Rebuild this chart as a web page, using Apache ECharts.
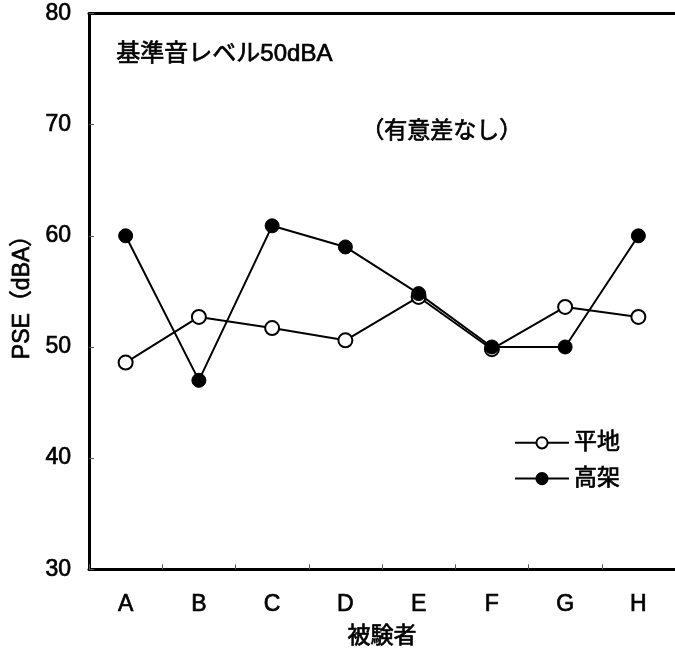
<!DOCTYPE html>
<html>
<head>
<meta charset="utf-8">
<script src="https://cdn.jsdelivr.net/npm/echarts@6/dist/echarts.min.js"></script>
<style>html,body{margin:0;padding:0;background:#fff;}#c{width:675px;height:660px;}</style>
</head>
<body>
<div id="c"></div>
<script>
var categories = ['A', 'B', 'C', 'D', 'E', 'F', 'G', 'H'];
var flatValues = [48.6, 52.7, 51.7, 50.6, 54.5, 49.8, 53.6, 52.7];
var elevValues = [60.0, 47.0, 60.9, 59.0, 54.8, 50.0, 50.0, 60.0];
var seriesNames = ['平地', '高架'];
var yTicks = [30, 40, 50, 60, 70, 80];

var FONT = '"Liberation Sans", Arial, "Noto Sans CJK JP", sans-serif';
var TS = {color: '#000', fontSize: 23, fontFamily: FONT, textBorderColor: '#000', textBorderWidth: 0.7};
function ts(extra) { return Object.assign({}, TS, extra || {}); }
var chart = echarts.init(document.getElementById('c'), null, {renderer: 'canvas'});
chart.setOption({
  backgroundColor: '#fff',
  animation: false,
  grid: {left: 89, top: 13.5, right: -3, bottom: 90.7, show: false},
  xAxis: [{
    type: 'category',
    data: categories,
    boundaryGap: true,
    name: '被験者',
    nameLocation: 'middle',
    nameGap: 56,
    nameTextStyle: ts(),
    axisLine: {show: true, onZero: false, lineStyle: {color: '#000', width: 3}},
    axisTick: {show: true, inside: true, length: 5, lineStyle: {color: '#555', width: 1}},
    axisLabel: ts({margin: 24}),
    splitLine: {show: false}
  }, {
    type: 'category',
    data: categories,
    position: 'top',
    axisLine: {show: true, lineStyle: {color: '#000', width: 3}},
    axisTick: {show: false},
    axisLabel: {show: false},
    splitLine: {show: false}
  }],
  yAxis: {
    type: 'value',
    min: yTicks[0],
    max: yTicks[yTicks.length - 1],
    interval: 10,
    name: 'PSE（dBA）',
    nameLocation: 'middle',
    nameGap: 55,
    nameTextStyle: ts(),
    axisLine: {show: true, lineStyle: {color: '#000', width: 3}},
    axisTick: {show: true, inside: true, length: 5, lineStyle: {color: '#555', width: 1}},
    axisLabel: ts({margin: 18}),
    splitLine: {show: false}
  },
  legend: {
    orient: 'vertical',
    left: 509,
    top: 426,
    itemWidth: 54,
    itemHeight: 14,
    itemGap: 12,
    textStyle: ts(),
    data: seriesNames
  },
  series: [
    {
      name: seriesNames[0],
      type: 'line',
      data: flatValues,
      symbol: 'circle',
      symbolSize: 14,
      lineStyle: {color: '#000', width: 2},
      itemStyle: {color: '#fff', borderColor: '#000', borderWidth: 2},
      z: 2
    },
    {
      name: seriesNames[1],
      type: 'line',
      data: elevValues,
      symbol: 'circle',
      symbolSize: 14,
      lineStyle: {color: '#000', width: 2},
      itemStyle: {color: '#000', borderColor: '#000', borderWidth: 1},
      z: 3
    }
  ],
  graphic: [
    {type: 'text', left: 116, top: 42, style: {text: '基準音レベル50dBA', fill: '#000', stroke: '#000', lineWidth: 0.7, font: '24px ' + FONT}},
    {type: 'text', left: 361, top: 120, style: {text: '（有意差なし）', fill: '#000', stroke: '#000', lineWidth: 0.7, font: '23px ' + FONT}}
  ]
});
</script>
</body>
</html>
